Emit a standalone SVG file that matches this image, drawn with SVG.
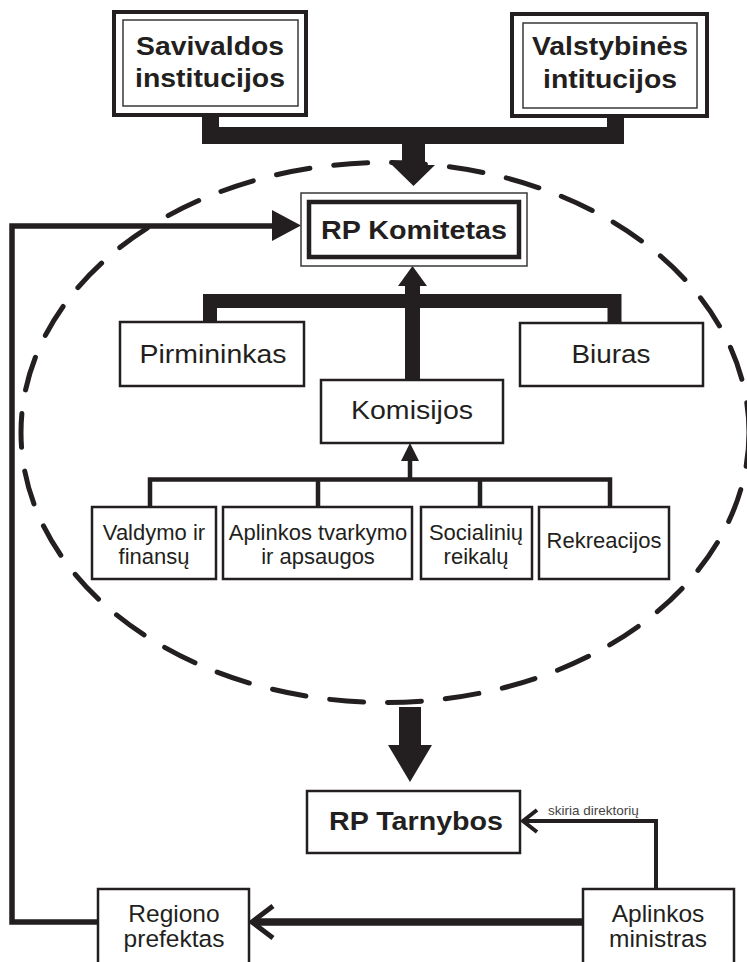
<svg xmlns="http://www.w3.org/2000/svg" width="747" height="962" viewBox="0 0 747 962">
<style>
.bg{fill:#fff}
.box{fill:#fff;stroke:#231f20;stroke-width:2.5}
.thin{fill:none;stroke:#3a3738;stroke-width:1.5}
.thick{fill:none;stroke:#231f20;stroke-width:4.5}
.t{font-family:"Liberation Sans",Arial,sans-serif;fill:#231f20;text-anchor:middle}
.b{font-weight:bold;font-size:26.5px}
.r26{font-size:26px}
.r24{font-size:24.5px}
.r22{font-size:22px}
.s{font-size:13.5px;text-anchor:start;fill:#444}
.ln{fill:none;stroke:#231f20;stroke-linejoin:miter;stroke-linecap:butt}
.ah{fill:#231f20;stroke:none}
.ell{fill:none;stroke:#231f20;stroke-width:5;stroke-dasharray:34 24;stroke-linecap:round}
</style>
<rect class="bg" x="0" y="0" width="747" height="962"/>
<ellipse class="ell" cx="385" cy="432.5" rx="364" ry="270"/>
<g id="connectors">
  <path class="ln" stroke-width="17" d="M210.5,117 V135.5 H615.5 V118"/>
  <rect class="ah" x="402" y="143" width="23" height="23"/>
  <polygon class="ah" points="392,165 435,165 413.5,186"/>
  <path class="ln" stroke-width="14" d="M210,322 V301 H614.5 V323"/>
  <rect class="ah" x="405" y="284" width="15" height="97"/>
  <polygon class="ah" points="398,286 427,286 412.5,266"/>
  <path class="ln" stroke-width="4.5" d="M150,507 V479.5 H610 V507 M318,479.5 V507 M480,479.5 V507 M410,479.5 V458"/>
  <polygon class="ah" points="401,461 419,461 410,443"/>
  <path class="ln" stroke-width="5.5" d="M98,922 H12 V226 H274"/>
  <polygon class="ah" points="272,210 301,225.5 272,241"/>
  <rect class="ah" x="399" y="707" width="22" height="39"/>
  <polygon class="ah" points="388,745 432,745 410,782"/>
  <path class="ln" stroke-width="7.5" d="M583,922 H253"/>
  <path class="ln" stroke-width="5" d="M273,906 L252,922 L273,938"/>
  <path class="ln" stroke-width="4" d="M656,889 V821 H523"/>
  <path class="ln" stroke-width="4" d="M537,810 L523,821 L537,832"/>
  <text class="t s" x="548" y="815">skiria direktorių</text>
</g>
<g id="savivaldos">
  <rect x="114" y="12" width="192" height="103" fill="#fff" stroke="#231f20" stroke-width="4"/>
  <rect class="thin" x="123" y="20" width="175" height="86"/>
  <text class="t b" x="210" y="55" textLength="148" lengthAdjust="spacingAndGlyphs">Savivaldos</text>
  <text class="t b" x="210" y="87" textLength="150" lengthAdjust="spacingAndGlyphs">institucijos</text>
</g>
<g id="valstybines">
  <rect x="512" y="14" width="195" height="102" fill="#fff" stroke="#231f20" stroke-width="4"/>
  <rect class="thin" x="523" y="23" width="174" height="85"/>
  <text class="t b" x="610" y="55" textLength="156" lengthAdjust="spacingAndGlyphs">Valstybinės</text>
  <text class="t b" x="610" y="88" textLength="134" lengthAdjust="spacingAndGlyphs">intitucijos</text>
</g>
<g id="rp-komitetas">
  <rect class="thin" x="301" y="193" width="226" height="73" fill="#fff"/>
  <rect class="thick" x="309" y="202" width="210" height="55"/>
  <text class="t b" x="414" y="239" textLength="186" lengthAdjust="spacingAndGlyphs">RP Komitetas</text>
</g>
<g id="pirmininkas">
  <rect class="box" x="120" y="322" width="184" height="64"/>
  <text class="t r26" x="213" y="363" textLength="147" lengthAdjust="spacingAndGlyphs">Pirmininkas</text>
</g>
<g id="biuras">
  <rect class="box" x="520" y="323" width="183" height="63"/>
  <text class="t r26" x="611" y="363" textLength="79" lengthAdjust="spacingAndGlyphs">Biuras</text>
</g>
<g id="komisijos">
  <rect class="box" x="321" y="380" width="182" height="63"/>
  <text class="t r26" x="412" y="419" textLength="122" lengthAdjust="spacingAndGlyphs">Komisijos</text>
</g>
<g id="valdymo">
  <rect class="box" x="92" y="507" width="124" height="72"/>
  <text class="t r22" x="154" y="540">Valdymo ir</text>
  <text class="t r22" x="154" y="564">finansų</text>
</g>
<g id="aplinkos-tvarkymo">
  <rect class="box" x="223" y="507" width="189" height="72"/>
  <text class="t r22" x="318" y="540">Aplinkos tvarkymo</text>
  <text class="t r22" x="318" y="564">ir apsaugos</text>
</g>
<g id="socialiniu">
  <rect class="box" x="421" y="507" width="111" height="72"/>
  <text class="t r22" x="476" y="540">Socialinių</text>
  <text class="t r22" x="476" y="564">reikalų</text>
</g>
<g id="rekreacijos">
  <rect class="box" x="539" y="507" width="130" height="72"/>
  <text class="t r22" x="604" y="548">Rekreacijos</text>
</g>
<g id="rp-tarnybos">
  <rect class="box" x="307" y="791" width="213" height="62" stroke-width="3"/>
  <text class="t b" x="416" y="830" textLength="174" lengthAdjust="spacingAndGlyphs">RP Tarnybos</text>
</g>
<g id="regiono-prefektas">
  <rect class="box" x="98" y="889" width="151" height="80"/>
  <text class="t r24" x="174" y="922">Regiono</text>
  <text class="t r24" x="174" y="947">prefektas</text>
</g>
<g id="aplinkos-ministras">
  <rect class="box" x="583" y="889" width="151" height="80"/>
  <text class="t r24" x="658" y="922">Aplinkos</text>
  <text class="t r24" x="658" y="947">ministras</text>
</g>
</svg>
